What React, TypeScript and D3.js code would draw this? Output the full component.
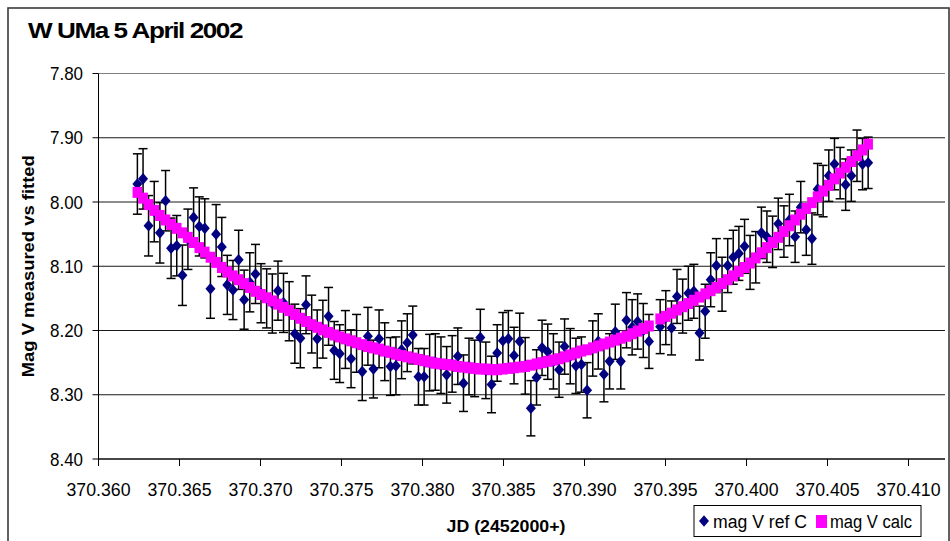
import React from "react";
import * as d3 from "d3";

// Julian date (2452000+) of each observation
const jd = [
  370.3624, 370.36275, 370.36309, 370.36344, 370.36379, 370.36414, 370.36448, 370.36483, 370.36518, 370.36552,
  370.36587, 370.36622, 370.36656, 370.36691, 370.36726, 370.36761, 370.36795, 370.3683, 370.36865, 370.36899,
  370.36934, 370.36969, 370.37003, 370.37038, 370.37073, 370.37108, 370.37142, 370.37177, 370.37212, 370.37246,
  370.37281, 370.37316, 370.3735, 370.37385, 370.3742, 370.37455, 370.37489, 370.37524, 370.37559, 370.37593,
  370.37628, 370.37663, 370.37697, 370.37732, 370.37767, 370.37802, 370.37836, 370.37871, 370.37906, 370.3794,
  370.37975, 370.3801, 370.38044, 370.38079, 370.38114, 370.38149, 370.38183, 370.38218, 370.38253, 370.38287,
  370.38322, 370.38357, 370.38391, 370.38426, 370.38461, 370.38496, 370.3853, 370.38565, 370.386, 370.38634,
  370.38669, 370.38704, 370.38738, 370.38773, 370.38808, 370.38843, 370.38877, 370.38912, 370.38947, 370.38981,
  370.39016, 370.39051, 370.39085, 370.3912, 370.39155, 370.3919, 370.39224, 370.39259, 370.39294, 370.39328,
  370.39363, 370.39398, 370.39467, 370.39502, 370.39537, 370.39571, 370.39606, 370.39641, 370.39675,
  370.3971, 370.39745, 370.39779, 370.39814, 370.39849, 370.39884, 370.39918, 370.39953, 370.39988, 370.40022,
  370.40057, 370.40092, 370.40126, 370.40161, 370.40196, 370.40231, 370.40265, 370.403, 370.40335, 370.40369,
  370.40404, 370.40439, 370.40473, 370.40508, 370.40543, 370.40578, 370.40612, 370.40647, 370.40682, 370.40716,
  370.40751,
];

// Measured V magnitude against comparison star C
const magMeasured = [
  7.972, 7.964, 8.037, 8.015, 8.048, 7.998, 8.072, 8.068, 8.114, 8.058,
  8.024, 8.038, 8.041, 8.135, 8.05, 8.07, 8.129, 8.137, 8.09, 8.152,
  8.125, 8.112, 8.142, 8.15, 8.158, 8.138, 8.157, 8.17, 8.205, 8.212,
  8.16, 8.19, 8.213, 8.198, 8.178, 8.231, 8.236, 8.214, 8.244, 8.22,
  8.264, 8.209, 8.26, 8.213, 8.233, 8.256, 8.255, 8.23, 8.219, 8.207,
  8.272, 8.272, 8.25, 8.249, 8.254, 8.269, 8.252, 8.24, 8.282, 8.256,
  8.259, 8.211, 8.262, 8.284, 8.235, 8.216, 8.213, 8.239, 8.217, 8.255,
  8.321, 8.273, 8.227, 8.233, 8.248, 8.261, 8.225, 8.24, 8.255, 8.253,
  8.293, 8.228, 8.217, 8.268, 8.248, 8.202, 8.248, 8.184, 8.195, 8.186,
  8.2, 8.217, 8.194, 8.18, 8.196, 8.147, 8.162, 8.142, 8.139,
  8.204, 8.17, 8.121, 8.099, 8.128, 8.099, 8.086, 8.08, 8.069, 8.094,
  8.086, 8.048, 8.054, 8.062, 8.034, 8.046, 8.028, 8.054, 8.008, 8.043,
  8.057, 7.98, 7.983, 7.959, 7.941, 7.955, 7.973, 7.959, 7.928, 7.941,
  7.939,
];

// Measurement uncertainty (+/-) of each magnitude
const magErr = [
  0.047, 0.047, 0.047, 0.047, 0.047, 0.047, 0.047, 0.047, 0.047, 0.047,
  0.046, 0.046, 0.046, 0.046, 0.046, 0.046, 0.046, 0.046, 0.046, 0.046,
  0.046, 0.046, 0.046, 0.046, 0.046, 0.046, 0.046, 0.046, 0.046, 0.046,
  0.045, 0.045, 0.045, 0.045, 0.045, 0.045, 0.045, 0.045, 0.045, 0.045,
  0.045, 0.045, 0.045, 0.045, 0.045, 0.045, 0.045, 0.045, 0.045, 0.045,
  0.044, 0.044, 0.044, 0.044, 0.044, 0.044, 0.044, 0.044, 0.044, 0.044,
  0.044, 0.044, 0.044, 0.044, 0.044, 0.044, 0.044, 0.044, 0.044, 0.044,
  0.043, 0.043, 0.043, 0.043, 0.043, 0.043, 0.043, 0.043, 0.043, 0.043,
  0.043, 0.043, 0.043, 0.043, 0.043, 0.043, 0.043, 0.043, 0.043, 0.043,
  0.042, 0.042, 0.042, 0.042, 0.042, 0.042, 0.042, 0.042, 0.042,
  0.042, 0.042, 0.042, 0.042, 0.042, 0.042, 0.042, 0.042, 0.042, 0.042,
  0.04, 0.04, 0.04, 0.04, 0.04, 0.04, 0.04, 0.04, 0.04, 0.04,
  0.04, 0.04, 0.04, 0.04, 0.04, 0.04, 0.04, 0.04, 0.04, 0.04,
  0.04,
];

// Fitted (calculated) V magnitude
const magCalc = [
  7.985, 7.994, 8.004, 8.013, 8.021, 8.028, 8.035, 8.041, 8.048, 8.055,
  8.063, 8.071, 8.078, 8.086, 8.094, 8.102, 8.109, 8.115, 8.121, 8.127,
  8.133, 8.139, 8.144, 8.149, 8.154, 8.159, 8.164, 8.169, 8.175, 8.181,
  8.186, 8.191, 8.195, 8.199, 8.203, 8.207, 8.21, 8.213, 8.216, 8.219,
  8.222, 8.225, 8.227, 8.229, 8.232, 8.234, 8.237, 8.239, 8.241, 8.243,
  8.245, 8.247, 8.249, 8.251, 8.252, 8.253, 8.254, 8.256, 8.257, 8.258,
  8.259, 8.26, 8.26, 8.261, 8.261, 8.26, 8.259, 8.258, 8.257, 8.256,
  8.254, 8.252, 8.25, 8.248, 8.246, 8.244, 8.241, 8.238, 8.235, 8.232,
  8.23, 8.227, 8.224, 8.221, 8.218, 8.215, 8.212, 8.209, 8.205, 8.201,
  8.197, 8.193, 8.182, 8.178, 8.173, 8.168, 8.163, 8.158, 8.153,
  8.148, 8.143, 8.138, 8.133, 8.127, 8.121, 8.115, 8.108, 8.102, 8.095,
  8.087, 8.079, 8.071, 8.063, 8.055, 8.046, 8.037, 8.028, 8.019, 8.01,
  8.001, 7.992, 7.983, 7.974, 7.964, 7.955, 7.946, 7.937, 7.928, 7.919,
  7.91,
];

const xTicks = [370.36, 370.365, 370.37, 370.375, 370.38, 370.385, 370.39, 370.395, 370.4, 370.405, 370.41];
const yTicks = [7.8, 7.9, 8.0, 8.1, 8.2, 8.3, 8.4];

const titleText = "W UMa  5 April 2002";
const xTitle = "JD (2452000+)";
const yTitle = "Mag V measured vs fitted";
const seriesNames = ["mag  V ref C", "mag V calc"];

const FONT = "'Liberation Sans', Arial, Helvetica, sans-serif";

export default function App() {
  const W = 950;
  const H = 541;
  const plotLeft = 98.5;
  const plotRight = 945;
  const x = d3.scaleLinear().domain([370.36, 370.41]).range([plotLeft, 908.5]);
  const y = d3.scaleLinear().domain([7.8, 8.4]).range([73.5, 459]);
  const fx = d3.format(".3f");
  const fy = d3.format(".2f");
  const diamond = "M0,-5.8L5,0L0,5.8L-5,0Z";
  const sqW = 9.6;
  const sqH = 11;

  return (
    <svg
      width={W}
      height={H}
      style={{ position: "absolute", left: 0, top: 0, background: "#fff" }}
      fontFamily={FONT}
    >
      <rect x={0} y={0} width={W} height={H} fill="#fff" />
      {/* chart frame */}
      <rect x={8} y={8} width={941} height={560} fill="none" stroke="#3a3a3a" strokeWidth={1.6} />

      <text x={28} y={38} fontSize={22} fontWeight="bold" letterSpacing={-1.2} textLength={214} lengthAdjust="spacingAndGlyphs" fill="#000">
        {titleText}
      </text>

      {/* horizontal gridlines */}
      {yTicks.map((t) => (
        <line key={"g" + t} x1={plotLeft} x2={plotRight} y1={y(t)} y2={y(t)} stroke={t === 7.8 ? "#808080" : "#1a1a1a"} strokeWidth={1} />
      ))}

      {/* y axis */}
      <line x1={plotLeft} x2={plotLeft} y1={y(7.8)} y2={y(8.4)} stroke="#000" strokeWidth={1} />
      {yTicks.map((t) => (
        <g key={"y" + t}>
          <line x1={plotLeft - 6} x2={plotLeft} y1={y(t)} y2={y(t)} stroke="#000" />
          <text x={83} y={y(t) + 6.5} fontSize={19} textAnchor="end" textLength={33} lengthAdjust="spacingAndGlyphs" fill="#000">
            {fy(t)}
          </text>
        </g>
      ))}

      {/* x axis */}
      <line x1={plotLeft} x2={plotRight} y1={y(8.4)} y2={y(8.4)} stroke="#000" strokeWidth={1} />
      {xTicks.map((t) => (
        <g key={"x" + t}>
          <line x1={x(t)} x2={x(t)} y1={y(8.4)} y2={y(8.4) + 7} stroke="#000" />
          <text x={x(t)} y={496} fontSize={19} textAnchor="middle" textLength={64} lengthAdjust="spacingAndGlyphs" fill="#000">
            {fx(t)}
          </text>
        </g>
      ))}

      <text x={506} y={532} fontSize={17} fontWeight="bold" textAnchor="middle" textLength={119} lengthAdjust="spacingAndGlyphs" fill="#000">
        {xTitle}
      </text>
      <text
        transform={`translate(34, ${(y(7.8) + y(8.4)) / 2}) rotate(-90)`}
        fontSize={17}
        fontWeight="bold"
        textAnchor="middle"
        textLength={222}
        lengthAdjust="spacingAndGlyphs"
        fill="#000"
      >
        {yTitle}
      </text>

      {/* measured series: error bars then markers */}
      <g stroke="#000" strokeWidth={1.5}>
        {jd.map((d, i) => {
          const cx = x(d);
          const top = y(magMeasured[i] - magErr[i]);
          const bot = y(magMeasured[i] + magErr[i]);
          return (
            <g key={"e" + i}>
              <line x1={cx} x2={cx} y1={top} y2={bot} />
              <line x1={cx - 4.5} x2={cx + 4.5} y1={top} y2={top} />
              <line x1={cx - 4.5} x2={cx + 4.5} y1={bot} y2={bot} />
            </g>
          );
        })}
      </g>
      <g fill="#000080">
        {jd.map((d, i) => (
          <path key={"m" + i} d={diamond} transform={`translate(${x(d)},${y(magMeasured[i])})`} />
        ))}
      </g>

      {/* fitted series */}
      <g fill="#FF00FF">
        {jd.map((d, i) => (
          <rect key={"c" + i} x={x(d) - sqW / 2} y={y(magCalc[i]) - sqH / 2} width={sqW} height={sqH} />
        ))}
      </g>

      {/* legend */}
      <rect x={694} y={505.5} width={227} height={31} fill="#fff" stroke="#000" strokeWidth={1} />
      <path d={diamond} fill="#000080" transform="translate(704,521)" />
      <text x={713} y={527.5} fontSize={18} textLength={94} lengthAdjust="spacingAndGlyphs" fill="#000">
        {seriesNames[0]}
      </text>
      <rect x={816} y={515} width={11} height={13} fill="#FF00FF" />
      <text x={830} y={527.5} fontSize={18} textLength={82} lengthAdjust="spacingAndGlyphs" fill="#000">
        {seriesNames[1]}
      </text>
    </svg>
  );
}
